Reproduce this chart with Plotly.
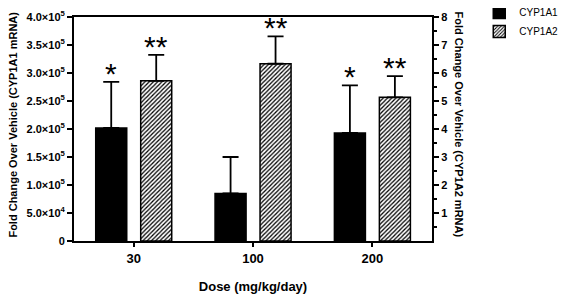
import plotly.graph_objects as go

# ---- data ----
doses = ["30", "100", "200"]
cyp1a1 = [2.02e5, 0.85e5, 1.93e5]
cyp1a1_err = [0.82e5, 0.65e5, 0.85e5]
cyp1a2 = [5.72, 6.33, 5.13]
cyp1a2_err = [0.93, 0.98, 0.76]
sig1a1 = ["*", "", "*"]
sig1a2 = ["**", "**", "**"]

left_tickvals = [0, 5e4, 1e5, 1.5e5, 2e5, 2.5e5, 3e5, 3.5e5, 4e5]
left_ticktext = ["0", "5.0×10<sup>4</sup>", "1.0×10<sup>5</sup>", "1.5×10<sup>5</sup>",
                 "2.0×10<sup>5</sup>", "2.5×10<sup>5</sup>", "3.0×10<sup>5</sup>",
                 "3.5×10<sup>5</sup>", "4.0×10<sup>5</sup>"]
right_tickvals = [1, 2, 3, 4, 5, 6, 7, 8]
right_minor = [0.5, 1.5, 2.5, 3.5, 4.5, 5.5, 6.5, 7.5]

FONT = "Liberation Sans, Arial, sans-serif"

fig = go.Figure()
fig.add_trace(go.Bar(
    x=doses, y=cyp1a1, name="CYP1A1", yaxis="y",
    width=0.26, offset=-0.318,
    marker=dict(color="black", line=dict(color="black", width=1.5)),
    error_y=dict(type="data", array=cyp1a1_err, symmetric=False,
                 arrayminus=[0] * len(cyp1a1), color="black", thickness=1.8, width=8),
))
fig.add_trace(go.Bar(
    x=doses, y=cyp1a2, name="CYP1A2", yaxis="y2",
    width=0.26, offset=0.059,
    marker=dict(color="white", line=dict(color="black", width=1.5),
                pattern=dict(shape="/", fgcolor="black", bgcolor="white",
                             size=3, solidity=0.42, fillmode="replace")),
    error_y=dict(type="data", array=cyp1a2_err, symmetric=False,
                 arrayminus=[0] * len(cyp1a2), color="black", thickness=1.8, width=8),
))

annotations = []
for i, (v, e, s) in enumerate(zip(cyp1a1, cyp1a1_err, sig1a1)):
    if s:
        annotations.append(dict(x=i, y=v + e, xref="x", yref="y", text=s, showarrow=False,
                                xshift=-22.5, yshift=-10, yanchor="bottom",
                                font=dict(family=FONT, size=30, color="black")))
for i, (v, e, s) in enumerate(zip(cyp1a2, cyp1a2_err, sig1a2)):
    if s:
        annotations.append(dict(x=i, y=v + e, xref="x", yref="y2", text=s, showarrow=False,
                                xshift=22.5, yshift=-10, yanchor="bottom",
                                font=dict(family=FONT, size=30, color="black")))

annotations.append(dict(x=-0.173, y=0.52, xref="paper", yref="paper",
                        text="Fold Change Over Vehicle (CYP1A1 mRNA)", textangle=-90,
                        showarrow=False, xanchor="center", yanchor="middle",
                        font=dict(family=FONT, size=11, color="black", weight="bold")))
annotations.append(dict(x=1.078, y=0.52, xref="paper", yref="paper",
                        text="Fold Change Over Vehicle (CYP1A2 mRNA)", textangle=90,
                        showarrow=False, xanchor="center", yanchor="middle",
                        font=dict(family=FONT, size=11, color="black", weight="bold")))

# page body has an 8px default margin, so the figure is sized to the visible area
fig.update_layout(
    width=561, height=288,
    margin=dict(l=66, r=137, t=9, b=55, autoexpand=False),
    paper_bgcolor="white", plot_bgcolor="white",
    barmode="overlay",
    font=dict(family=FONT, color="black"),
    xaxis=dict(
        type="category", range=[-0.5, 2.5],
        showline=True, linecolor="black", linewidth=2, mirror=True,
        ticks="outside", ticklen=4, tickwidth=2, tickcolor="black",
        tickfont=dict(family=FONT, size=13, color="black", weight="bold"),
        showgrid=False, zeroline=False,
        title=dict(text="Dose (mg/kg/day)", standoff=17,
                   font=dict(family=FONT, size=13, color="black", weight="bold")),
    ),
    yaxis=dict(
        range=[0, 4e5], tickvals=left_tickvals, ticktext=left_ticktext,
        showline=True, linecolor="black", linewidth=2,
        ticks="outside", ticklen=5, tickwidth=1.5, tickcolor="black",
        tickfont=dict(family=FONT, size=11, color="black", weight="bold"),
        showgrid=False, zeroline=False,
    ),
    yaxis2=dict(
        range=[0, 8], overlaying="y", side="right",
        tickvals=right_tickvals, ticktext=[str(v) for v in right_tickvals],
        showline=True, linecolor="black", linewidth=2,
        ticks="outside", ticklen=5, tickwidth=1.5, tickcolor="black",
        minor=dict(tickvals=right_minor, ticks="outside", ticklen=3, tickwidth=1.5, tickcolor="black"),
        tickfont=dict(family=FONT, size=11, color="black", weight="bold"),
        showgrid=False, zeroline=False,
    ),
    legend=dict(x=1.132, y=1.085, xanchor="left", yanchor="top",
                font=dict(family=FONT, size=10, color="black"),
                bgcolor="rgba(0,0,0,0)"),
    annotations=annotations,
)

fig.write_html("out.html")
